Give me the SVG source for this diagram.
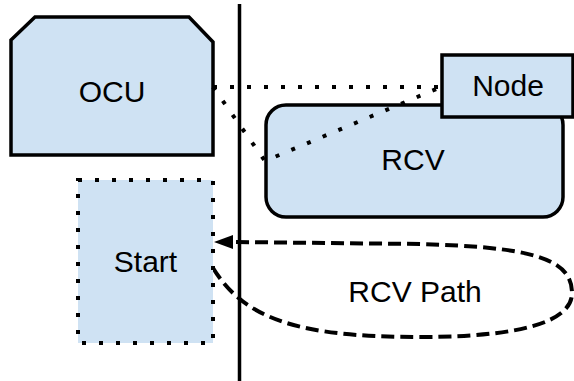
<svg xmlns="http://www.w3.org/2000/svg" width="574" height="381" viewBox="0 0 574 381">
<style>
.box{fill:#cfe2f3;stroke:#000;stroke-width:3.5}
.lbl{font-family:"Liberation Sans",Arial,sans-serif;font-size:30px;fill:#000;text-anchor:middle}
.dot{fill:none;stroke:#000;stroke-width:4;stroke-dasharray:4 13}
</style>
<rect width="574" height="381" fill="#fff"/>
<g id="divider"><line x1="239.5" y1="4" x2="239.5" y2="381" stroke="#000" stroke-width="3.5"/></g>
<g id="OCU">
<polygon class="box" points="11,40 35,17 189,17 213,42 213,155 11,155"/>
<text class="lbl" x="112" y="102">OCU</text>
</g>
<g id="RCV">
<rect class="box" x="266" y="105" width="297" height="112" rx="20"/>
<text class="lbl" x="413" y="170">RCV</text>
</g>
<g id="connectors">
<path class="dot" d="M213,87 L441,87"/>
<path class="dot" d="M213,87 L265,161 L441,87"/>
<path d="M213,268 C245,320 300,337 420,337 C520,337 572,322 572,293 C572,258 530,247 420,244 L233,242" fill="none" stroke="#000" stroke-width="4" stroke-dasharray="13 6"/>
<polygon points="214,242 233,235 233,249" fill="#000"/>
</g>
<g id="Node">
<rect class="box" x="442" y="55" width="131" height="62"/>
<text class="lbl" x="508" y="96">Node</text>
</g>
<g id="Start">
<rect x="78" y="180" width="135" height="163" fill="#cfe2f3"/>
<rect x="78" y="180" width="135" height="163" class="dot"/>
<text class="lbl" x="145.5" y="272">Start</text>
</g>
<g id="RCVPath"><text class="lbl" x="415" y="302">RCV Path</text></g>
</svg>
